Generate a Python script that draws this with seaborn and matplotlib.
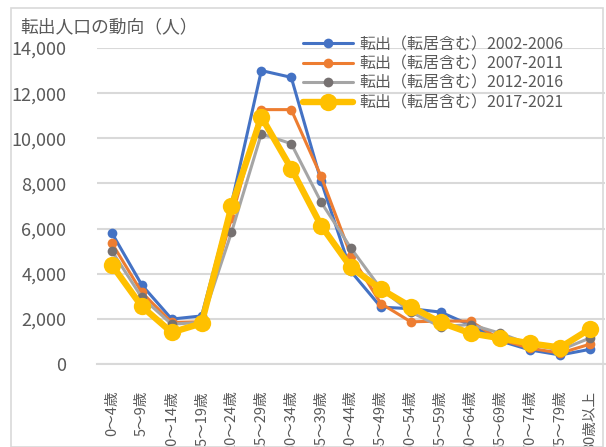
import numpy as np
import pandas as pd
import matplotlib
matplotlib.use('Agg')
import matplotlib.pyplot as plt
from matplotlib.patches import Rectangle
import seaborn as sns

# Data
age_groups = ['0～4歳', '5～9歳', '10～14歳', '15～19歳', '20～24歳', '25～29歳',
              '30～34歳', '35～39歳', '40～44歳', '45～49歳', '50～54歳', '55～59歳',
              '60～64歳', '65～69歳', '70～74歳', '75～79歳', '80歳以上']
series_names = ['転出（転居含む）2002-2006', '転出（転居含む）2007-2011',
                '転出（転居含む）2012-2016', '転出（転居含む）2017-2021']
out_2002_2006 = [5800, 3500, 1990, 2130, 7100, 13000, 12700, 8100, 4100, 2520,
                 2450, 2300, 1720, 1020, 620, 400, 650]
out_2007_2011 = [5350, 3170, 1840, 1870, 6450, 11270, 11270, 8310, 4800, 2680,
                 1870, 1900, 1900, 1080, 700, 480, 880]
out_2012_2016 = [5000, 2950, 1760, 1850, 5830, 10200, 9760, 7170, 5130, 3330,
                 2300, 1650, 1750, 1360, 860, 620, 1150]
out_2017_2021 = [4380, 2550, 1400, 1800, 6980, 10950, 8660, 6130, 4280, 3320,
                 2540, 1840, 1360, 1140, 910, 730, 1560]

line_colors = ['#4472C4', '#ED7D31', '#A5A5A5', '#FFC000']
marker_colors = ['#4472C4', '#ED7D31', '#767171', '#FFC000']
line_widths = [2.2, 2.2, 2.2, 4.6]
marker_sizes = [7, 7, 7, 12.5]

df = pd.DataFrame({
    'age': age_groups * 4,
    'series': np.repeat(series_names, len(age_groups)),
    'value': out_2002_2006 + out_2007_2011 + out_2012_2016 + out_2017_2021,
})

sns.set_theme(style='white')
plt.rcParams['font.family'] = ['Noto Sans CJK JP', 'DejaVu Sans']
text_color = '#595959'
grid_color = '#D9D9D9'

W, H = 606, 447
fig = plt.figure(figsize=(W / 100, H / 100), dpi=100)
ax = fig.add_axes([97 / W, 1 - 364 / H, (605 - 97) / W, (364 - 48) / H])

# chart frame
fig.patches.append(Rectangle((11 / W, 0), (603 - 11) / W, 1 - 8 / H,
                             transform=fig.transFigure, fill=False,
                             edgecolor=grid_color, lw=1.2, zorder=0))

handles = []
for i, name in enumerate(series_names):
    sub = df[df['series'] == name]
    sns.lineplot(data=sub, x='age', y='value', ax=ax, color=line_colors[i],
                 lw=line_widths[i], marker='o', markersize=marker_sizes[i],
                 markerfacecolor=marker_colors[i], markeredgecolor=marker_colors[i],
                 markeredgewidth=0, zorder=3 + i, label=name, legend=False)
    handles.append(ax.lines[-1])

ax.set_xlim(-0.5, len(age_groups) - 0.5)
ax.set_ylim(0, 14000)
ax.set_yticks(np.arange(0, 14001, 2000))
ax.set_yticklabels([f'{v:,}' for v in range(0, 14001, 2000)])
ax.yaxis.grid(True, color=grid_color, lw=1.5)
ax.set_axisbelow(True)
for s in ['top', 'right', 'left']:
    ax.spines[s].set_visible(False)
ax.spines['bottom'].set_color(grid_color)
ax.spines['bottom'].set_linewidth(1.5)
ax.set_xlabel('')
ax.set_ylabel('')
ax.tick_params(axis='y', length=0, pad=22, labelsize=13, labelcolor=text_color)
ax.tick_params(axis='x', length=0, pad=19, labelsize=10.5, labelcolor=text_color)
for lab in ax.get_xticklabels():
    lab.set_rotation(90)
    lab.set_va('top')
    lab.set_ha('center')

fig.text(20 / W, 1 - 27 / H, '転出人口の動向（人）', fontsize=12.8, color=text_color,
         va='center', ha='left')

ax.legend(handles=handles, labels=series_names, loc='upper left',
          bbox_to_anchor=(303 / W, 1 - 36 / H), bbox_transform=fig.transFigure,
          frameon=False, fontsize=11.5, handlelength=3.1, handletextpad=0.45,
          labelspacing=0.15, borderpad=0, borderaxespad=0, labelcolor=text_color)

fig.savefig('out.png', dpi=100, facecolor='white')
